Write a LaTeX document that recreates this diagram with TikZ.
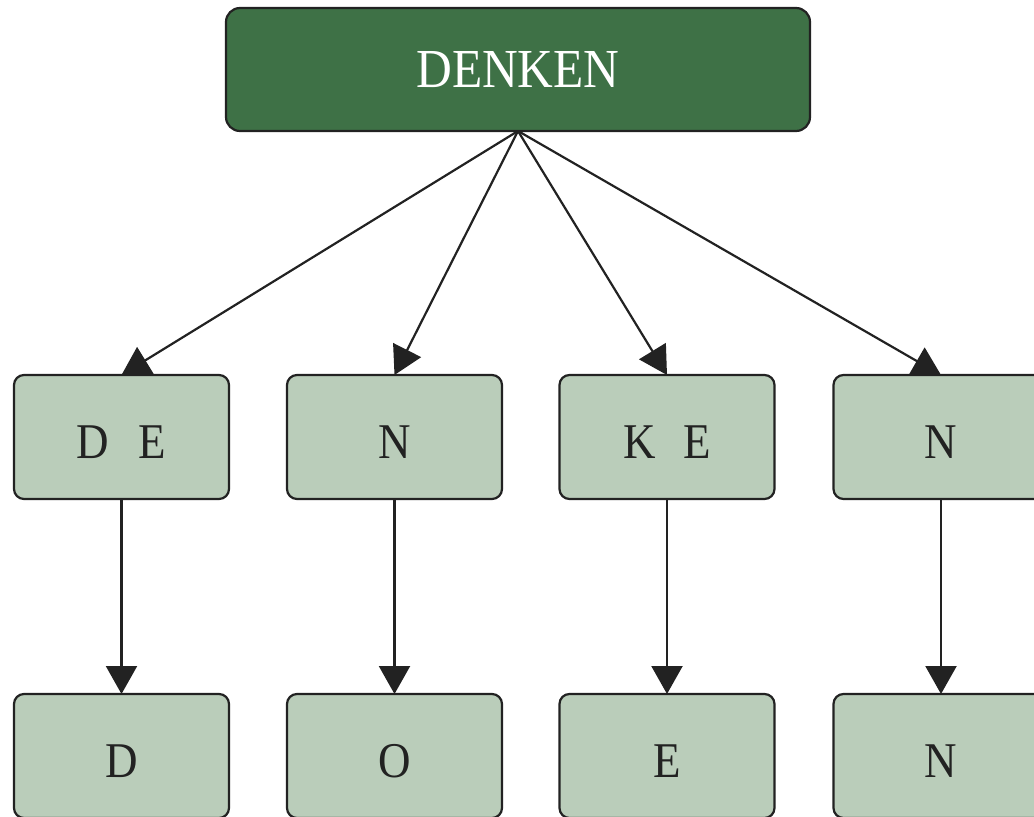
\documentclass[tikz,border=0pt]{standalone}
\usepackage{fontspec}
\setmainfont{Liberation Serif}[FakeStretch=0.9]
\usetikzlibrary{arrows.meta}
\definecolor{darkgreen}{HTML}{3E7146}
\definecolor{lightgreen}{HTML}{BACDBA}
\definecolor{edgegray}{HTML}{222222}
\begin{document}
\begin{tikzpicture}[x=1pt,y=-1pt,
  topbox/.style={draw=edgegray, line width=2.2pt, fill=darkgreen, rounded corners=14pt,
    minimum width=584pt, minimum height=123pt, inner sep=0pt, outer sep=0pt,
    text=white, font=\fontsize{55}{60}\selectfont},
  leaf/.style={draw=edgegray, line width=2.2pt, fill=lightgreen, rounded corners=10pt,
    minimum width=215pt, minimum height=124pt, inner sep=0pt, outer sep=0pt,
    text=edgegray, font=\fontsize{50}{56}\selectfont, text height=42pt, text depth=0pt},
  link/.style={draw=edgegray, line width=2.2pt, -{Triangle[length=28pt,width=31pt]}}]
\useasboundingbox (0,0) rectangle (1034,817);
\clip (0,0) rectangle (1034,817);
\node[topbox] (top) at (518,69.5) {DENKEN};
\node[leaf] (a1) at (121.5,437) {D\hspace{30pt}E};
\node[leaf] (a2) at (394.5,437) {N};
\node[leaf] (a3) at (667,437) {K\hspace{28pt}E};
\node[leaf] (a4) at (941,437) {N};
\node[leaf] (b1) at (121.5,756) {D};
\node[leaf] (b2) at (394.5,756) {O};
\node[leaf] (b3) at (667,756) {E};
\node[leaf] (b4) at (941,756) {N};
\foreach \i in {1,2,3,4}{
  \draw[link] (top.south) -- (a\i.north);
  \draw[link] (a\i.south) -- (b\i.north);
}
\end{tikzpicture}
\end{document}
